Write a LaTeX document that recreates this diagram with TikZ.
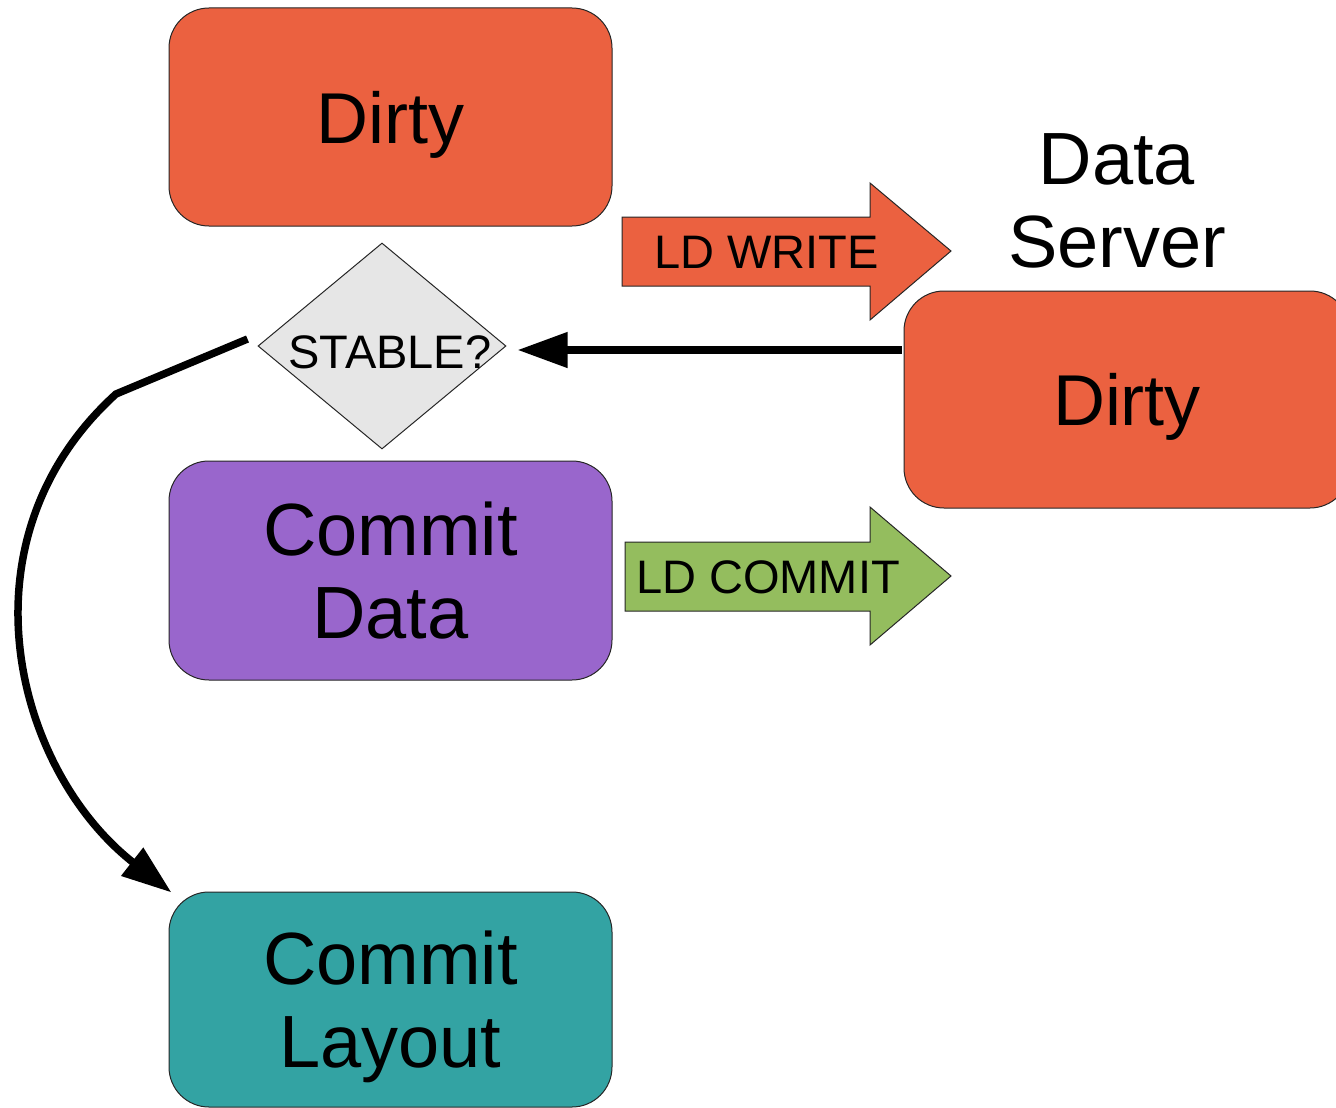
\documentclass[tikz,border=0pt]{standalone}
\usepackage{fontspec}
\setmainfont{Liberation Sans}
\usetikzlibrary{arrows.meta,shapes.geometric}
\definecolor{dirtyorange}{RGB}{235,97,64}
\definecolor{commitpurple}{RGB}{153,102,204}
\definecolor{layoutteal}{RGB}{51,163,163}
\definecolor{commitgreen}{RGB}{148,189,94}
\definecolor{diamondgray}{RGB}{230,230,230}
\begin{document}
\begin{tikzpicture}[x=1pt,y=-1pt,
  box/.style={draw=black!85, line width=1pt, rounded corners=40pt, inner sep=0pt,
    minimum width=443pt, minimum height=218pt, align=center},
  oneline/.style={font=\fontsize{72}{82}\selectfont, text height=52pt, text depth=0pt},
  twoline/.style={font=\fontsize{74}{83}\selectfont, text height=136pt, text depth=0pt},
  blockarrow/.style={draw=black!85, line width=1pt},
  arrowtext/.style={inner sep=0pt, font=\fontsize{47}{56}\selectfont, text height=34pt, text depth=0pt},
  flow/.style={line width=7.5pt, -{Triangle[length=50pt,width=34pt]}}
]
\useasboundingbox (0,0) rectangle (1336,1108);

% boxes
\node[box, oneline, fill=dirtyorange] (dirtyL) at (390.5,117) {Dirty};
\node[box, oneline, fill=dirtyorange, minimum width=446pt, minimum height=217pt] (dirtyR) at (1127,399.5) {Dirty};
\node[box, twoline, fill=commitpurple, minimum height=219pt] (cdata) at (390.5,570.5) {Commit\\Data};
\node[box, twoline, fill=layoutteal, minimum height=215pt] (clayout) at (390.5,999.5) {Commit\\Layout};

% data server label
\node[inner sep=0pt, align=center, twoline] (dserver) at (1117,199.5) {Data\\Server};

% decision diamond
\node[diamond, draw=black!85, line width=1pt, fill=diamondgray, inner sep=0pt,
      minimum width=248pt, minimum height=206pt] (stable) at (382,346) {};
\node[arrowtext] (stabletxt) at (390,351.5) {STABLE?};

% LD WRITE block arrow
\draw[blockarrow, fill=dirtyorange] (622,217) -- (870,217) -- (870,183) -- (951,251)
  -- (870,320) -- (870,286) -- (622,286) -- cycle;
\node[arrowtext] (ldwrite) at (766.5,251.5) {LD WRITE};

% LD COMMIT block arrow
\draw[blockarrow, fill=commitgreen] (625,542) -- (870,542) -- (870,507) -- (951,576)
  -- (870,645) -- (870,611) -- (625,611) -- cycle;
\node[arrowtext] (ldcommit) at (768,576.5) {LD COMMIT};

% connectors
\draw[flow, shorten <=2pt, shorten >=11pt] (dirtyR.west |- 0,350) -- (stable.east |- 0,350);

\coordinate (cstart) at ([shift={(-10,-7)}]stable.west);
\coordinate (bend) at (116,394);
\draw[flow, line join=miter] (cstart) -- (bend)
  .. controls (-45,540) and (15,770) .. ([shift={(3,1)}]clayout.north west);
\end{tikzpicture}
\end{document}
